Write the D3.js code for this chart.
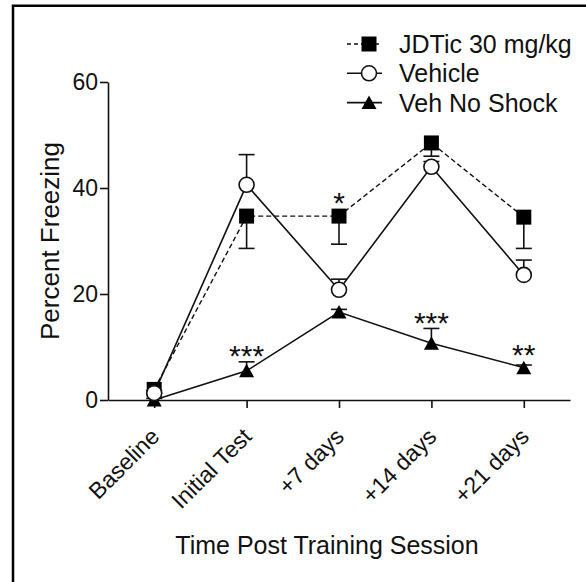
<!DOCTYPE html>
<html>
<head>
<meta charset="utf-8">
<script src="https://cdn.jsdelivr.net/npm/d3@7"></script>
<style>
  body { margin: 0; background: #fff; }
  svg text { font-family: "Liberation Sans", Arial, sans-serif; fill: #111; }
</style>
</head>
<body>
<svg id="chart" width="586" height="582"></svg>
<script>
// data
var categories = ["Baseline", "Initial Test", "+7 days", "+14 days", "+21 days"];
var seriesNames = ["JDTic 30 mg/kg", "Vehicle", "Veh No Shock"];

var jdticMean = [2.0, 34.7, 34.7, 48.5, 34.5];
var jdticSem  = [0.8, 6.1, 5.3, 2.5, 5.9];     // bars drawn downward
var vehMean   = [1.3, 40.6, 20.8, 44.0, 23.6];
var vehSem    = [0.5, 5.7, 2.0, 1.0, 2.8];     // bars drawn upward
var noShockMean = [0.0, 5.5, 16.6, 10.7, 6.1];
var noShockSem  = [0.3, 1.7, 0.5, 2.8, 0.5];   // bars drawn upward

// significance marks: which series they sit above
var sigLabels = ["", "***", "*", "***", "**"];
var sigSeries = [null, 2, 0, 2, 2];

var yTicks = [0, 20, 40, 60];

var svg = d3.select("#chart");

// outer frame (only top & left visible in the crop)
svg.append("path")
    .attr("d", "M13,582V5.7H586")
    .attr("fill", "none")
    .attr("stroke", "#000")
    .attr("stroke-width", 2.5);

var x = d3.scalePoint().domain(categories).range([108, 570]).padding(0.5),
    y = d3.scaleLinear().domain([0, 60]).range([400, 82]);

// axes
var yAxis = svg.append("g")
    .attr("transform", "translate(108,0)")
    .call(d3.axisLeft(y).tickValues(yTicks).tickSize(8).tickSizeOuter(0).tickPadding(2));
yAxis.selectAll("text").style("font-size", "23px");

var xAxis = svg.append("g")
    .attr("transform", "translate(0,400)")
    .call(d3.axisBottom(x).tickSize(8).tickSizeOuter(0));
xAxis.selectAll("text")
    .attr("x", 0).attr("y", 0).attr("dy", 0)
    .attr("text-anchor", "end")
    .attr("transform", "translate(6,38) rotate(-45)")
    .style("font-size", "23px");

svg.selectAll(".domain, .tick line").attr("stroke", "#111").attr("stroke-width", 1.6);

// axis titles
svg.append("text")
    .attr("transform", "translate(59,241) rotate(-90)")
    .attr("text-anchor", "middle")
    .style("font-size", "26px")
    .text("Percent Freezing");

svg.append("text")
    .attr("x", 327).attr("y", 554)
    .attr("text-anchor", "middle")
    .style("font-size", "25px")
    .text("Time Post Training Session");

// series
var series = [
    {name: seriesNames[0], mean: jdticMean, sem: jdticSem, dir: -1, dash: "5,3", sym: "square"},
    {name: seriesNames[1], mean: vehMean, sem: vehSem, dir: 1, dash: null, sym: "circle"},
    {name: seriesNames[2], mean: noShockMean, sem: noShockSem, dir: 1, dash: null, sym: "triangle"}
];

var line = d3.line()
    .x(function(d, i) { return x(categories[i]); })
    .y(function(d) { return y(d); });

// connecting lines
series.forEach(function(s) {
    svg.append("path")
        .attr("d", line(s.mean))
        .attr("fill", "none")
        .attr("stroke", "#111")
        .attr("stroke-width", s.dash ? 1.4 : 1.6)
        .attr("stroke-dasharray", s.dash);
});

// error bars
series.forEach(function(s) {
    var g = svg.append("g");
    s.mean.forEach(function(m, i) {
        var cx = x(categories[i]),
            y0 = y(m),
            y1 = y(m + s.dir * s.sem[i]);
        g.append("line").attr("x1", cx).attr("x2", cx).attr("y1", y0).attr("y2", y1)
            .attr("stroke", "#111").attr("stroke-width", 1.6);
        g.append("line").attr("x1", cx - 8).attr("x2", cx + 8).attr("y1", y1).attr("y2", y1)
            .attr("stroke", "#111").attr("stroke-width", 1.6);
    });
});

function drawSymbol(g, kind, cx, cy) {
    if (kind === "square") {
        g.append("rect").attr("x", cx - 7.5).attr("y", cy - 7.5)
            .attr("width", 15).attr("height", 15).attr("fill", "#000");
    } else if (kind === "circle") {
        g.append("circle").attr("cx", cx).attr("cy", cy).attr("r", 7.5)
            .attr("fill", "#fff").attr("stroke", "#111").attr("stroke-width", 1.6);
    } else {
        g.append("path")
            .attr("d", "M" + cx + "," + (cy - 7) + "L" + (cx + 7.5) + "," + (cy + 6.5) + "L" + (cx - 7.5) + "," + (cy + 6.5) + "Z")
            .attr("fill", "#000");
    }
}

// symbols: no-shock, then JDTic, then vehicle on top
[2, 0, 1].forEach(function(k) {
    var s = series[k], g = svg.append("g");
    s.mean.forEach(function(m, i) { drawSymbol(g, s.sym, x(categories[i]), y(m)); });
});

// significance asterisks
sigLabels.forEach(function(lab, i) {
    if (!lab) return;
    var s = series[sigSeries[i]],
        m = s.mean[i],
        top = Math.min(y(m) - 7.5, s.dir > 0 ? y(m + s.sem[i]) : y(m) - 7.5);
    svg.append("text")
        .attr("x", x(categories[i]))
        .attr("y", top - 12.5 + 17)
        .attr("text-anchor", "middle")
        .style("font-size", "30px")
        .text(lab);
});

// legend
var legend = svg.append("g").attr("transform", "translate(347,44)");
series.forEach(function(s, i) {
    var row = legend.append("g").attr("transform", "translate(0," + (i * 29.3) + ")");
    row.append("line").attr("x1", 0).attr("x2", 35).attr("y1", 0).attr("y2", 0)
        .attr("stroke", "#111").attr("stroke-width", 1.6)
        .attr("stroke-dasharray", s.dash ? "4,3" : null);
    drawSymbol(row, s.sym, 22, 0);
    row.append("text").attr("x", 52).attr("y", 9)
        .style("font-size", "25px")
        .text(s.name);
});
</script>
</body>
</html>
